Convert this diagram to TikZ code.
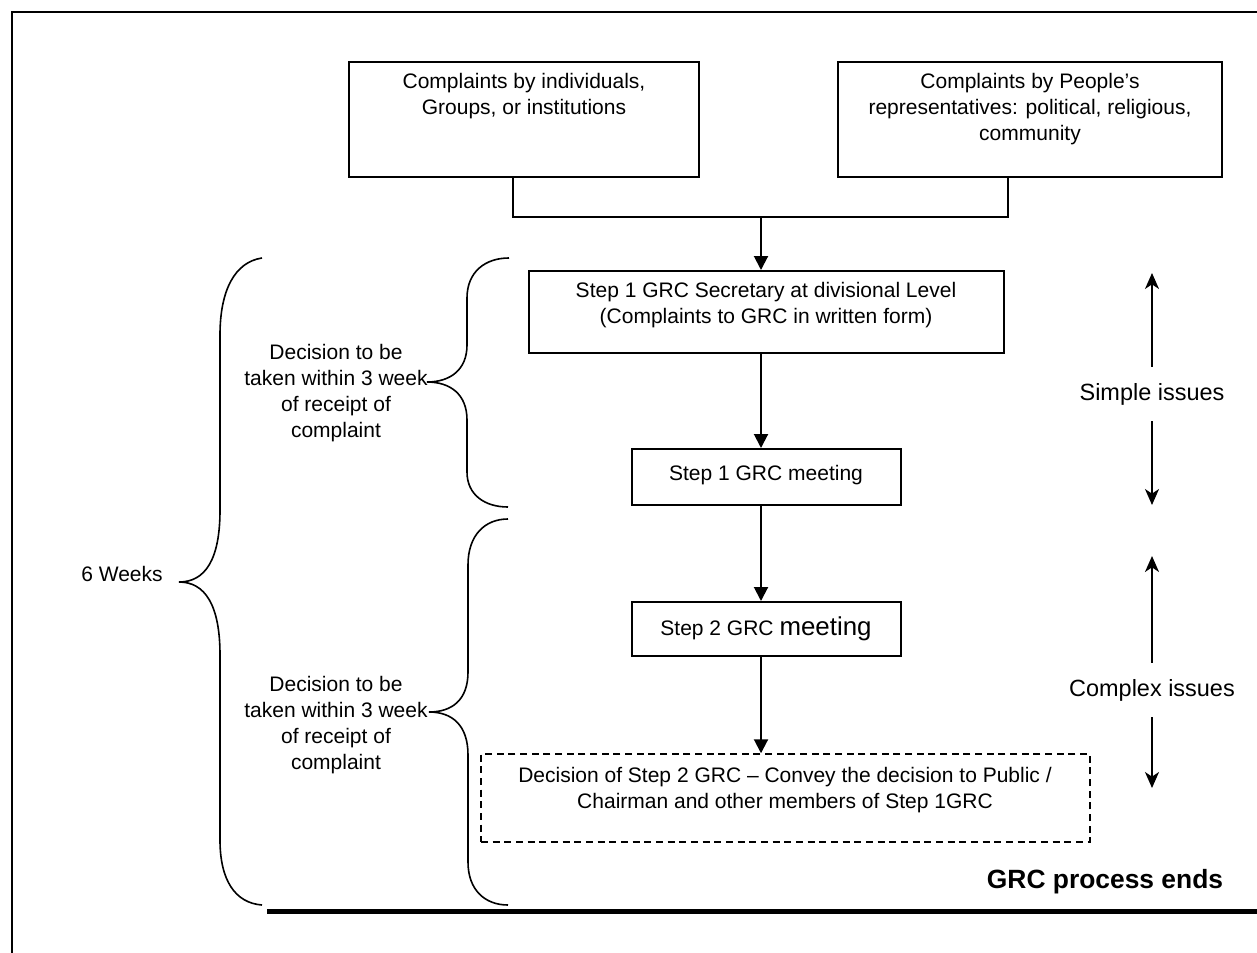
\documentclass[tikz,border=0pt]{standalone}
\usepackage{fontspec}
\setmainfont{Liberation Sans}
\usetikzlibrary{arrows.meta}
\begin{document}
\begin{tikzpicture}[x=0.75pt,y=0.75pt,yscale=-1,xscale=1,
    stepbox/.style={draw, line width=1.5pt, inner sep=0pt},
    boxtext/.style={align=center, inner sep=0pt, font=\fontsize{15.75pt}{19.5pt}\selectfont},
    sidetext/.style={align=center, inner xsep=0pt, inner ysep=12pt, font=\fontsize{17.6pt}{21pt}\selectfont},
    flowarrow/.style={line width=1.5pt, -{Triangle[width=10.5pt,length=10.5pt]}},
    rangearrow/.style={line width=1.5pt, -{Stealth[width=10.5pt,length=12pt,inset=3.5pt]}},
    bracepath/.style={line width=1.2pt}]
        \useasboundingbox (0,0) rectangle (1257,953);
        %Straight Lines
        \draw [line width=1.5pt] (1257,12) -- (12,12) -- (12,953) ;
        %Shape: Rectangle
        \node [stepbox, minimum width=262.5pt, minimum height=86.25pt] (indiv) at (524,119.5) {};
        \node [stepbox, minimum width=288pt, minimum height=86.25pt] (repres) at (1030,119.5) {};
        \node [stepbox, minimum width=356.25pt, minimum height=61.5pt] (secretary) at (766.5,312) {};
        \node [stepbox, minimum width=201.75pt, minimum height=42pt] (meetone) at (766.5,477) {};
        \node [stepbox, minimum width=201.75pt, minimum height=40.5pt] (meettwo) at (766.5,629) {};
        \node [draw, line width=1.1pt, dash pattern=on 5.25pt off 3.5pt, inner sep=0pt, minimum width=456.75pt, minimum height=66pt] (decision) at (785.5,798) {};
        % Text Node
        \node [boxtext] (indivtxt) at (524,96.5) {Complaints by individuals,\\Groups, or institutions};
        % Text Node
        \node [boxtext] (represtxt) at (1030,109) {Complaints by People’s\\representatives: political, religious,\\community};
        % Text Node
        \node [boxtext] (secretarytxt) at (766,305.5) {Step 1 GRC Secretary at divisional Level\\(Complaints to GRC in written form)};
        % Text Node
        \node [boxtext] (meetonetxt) at (766,475) {Step 1 GRC meeting};
        % Text Node
        \node [boxtext] (meettwotxt) at (766,629) {Step 2 GRC {\fontsize{19.4pt}{22pt}\selectfont meeting}};
        % Text Node
        \node [boxtext] (decisiontxt) at (785,790) {Decision of Step 2 GRC – Convey the decision to Public /\\Chairman and other members of Step 1GRC};
        %Straight Lines
        \coordinate (join) at (761,217);
        \draw [line width=1.5pt] ([xshift=-8.25pt]indiv.south) |- (join) -| ([xshift=-16.5pt]repres.south) ;
        \draw [flowarrow] (join) -- (join |- secretary.north) ;
        \draw [flowarrow] (secretary.south -| join) -- (meetone.north -| join) ;
        \draw [flowarrow] (meetone.south -| join) -- (meettwo.north -| join) ;
        \draw [flowarrow] (meettwo.south -| join) -- (decision.north -| join) ;
        % Text Node
        \node [sidetext] (simple) at (1152,394) {Simple issues};
        \coordinate (simpletop) at (1152,273);
        \coordinate (simplebot) at (1152,505);
        \draw [rangearrow] (simple.north) -- (simpletop) ;
        \draw [rangearrow] (simple.south) -- (simplebot) ;
        % Text Node
        \node [sidetext] (complex) at (1152,690) {Complex issues};
        \coordinate (complextop) at (1152,556);
        \coordinate (complexbot) at (1152,788);
        \draw [rangearrow] (complex.north) -- (complextop) ;
        \draw [rangearrow] (complex.south) -- (complexbot) ;
        %Curve Lines
        \draw [bracepath] (262,258) .. controls (235,262) and (220,290) .. (220,335) -- (220,510) .. controls (220,560) and (205,582) .. (179,582) .. controls (205,582) and (220,605) .. (220,655) -- (220,840) .. controls (220,880) and (235,903) .. (262,905) ;
        \draw [bracepath] (509,258) .. controls (485,258) and (467,272) .. (467,298) -- (467,345) .. controls (467,370) and (450,382) .. (427,382) .. controls (450,382) and (467,394) .. (467,420) -- (467,472) .. controls (467,495) and (485,507) .. (508,507) ;
        \draw [bracepath] (508,519) .. controls (485,519) and (468,535) .. (468,565) -- (468,672) .. controls (468,700) and (452,712) .. (429,712) .. controls (452,712) and (468,725) .. (468,755) -- (468,862) .. controls (468,890) and (485,905) .. (508,905) ;
        % Text Node
        \node [boxtext] (sixweeks) at (122,574) {6 Weeks};
        % Text Node
        \node [boxtext] (firstterm) at (336,393) {Decision to be\\taken within 3 week\\of receipt of\\complaint};
        % Text Node
        \node [boxtext] (secondterm) at (336,725) {Decision to be\\taken within 3 week\\of receipt of\\complaint};
        % Text Node
        \node [boxtext, font=\bfseries\fontsize{19.8pt}{23pt}\selectfont] (ends) at (1105,882) {GRC process ends};
        %Straight Lines
        \draw [line width=3.75pt] (267,911) -- (1257,911) ;
\end{tikzpicture}
\end{document}
